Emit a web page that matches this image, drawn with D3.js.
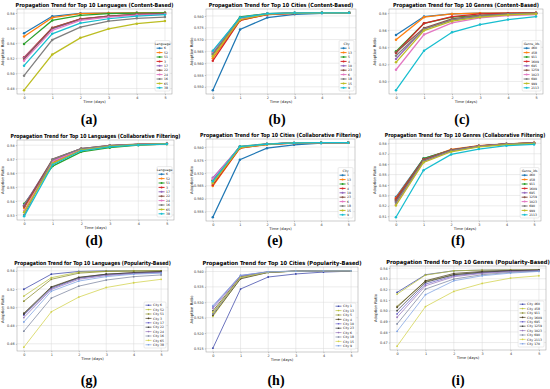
<!DOCTYPE html>
<html>
<head>
<meta charset="utf-8">
<script src="https://cdn.jsdelivr.net/npm/d3@7"></script>
<style>
  html, body { margin: 0; padding: 0; background: #fff; }
  svg { display: block; font-family: "DejaVu Sans", sans-serif; }
</style>
</head>
<body>
<div id="chart"></div>
<script>
// time steps shared by every panel
const timeSteps = [0, 1, 2, 3, 4, 5];

const languageIds = ["6", "52", "51", "3", "17", "22", "24", "16", "65", "38"];
const cityIds = ["1", "13", "5", "4", "10", "23", "6", "18", "15", "9"];
const genreIds = ["460", "458", "911", "1609", "695", "1259", "1023", "690", "999", "2113"];
const genrePopIds = ["460", "458", "911", "1609", "695", "1259", "1023", "690", "2113", "170"];

// (a) languages, content-based
const langContent = [
    [0.5533, 0.5756, 0.5796, 0.5800, 0.5802, 0.5802],
    [0.5489, 0.5738, 0.5791, 0.5799, 0.5802, 0.5802],
    [0.5391, 0.5702, 0.5769, 0.5791, 0.5800, 0.5802],
    [0.5213, 0.5604, 0.5724, 0.5760, 0.5782, 0.5791],
    [0.5204, 0.5591, 0.5716, 0.5756, 0.5778, 0.5787],
    [0.5191, 0.5600, 0.5720, 0.5760, 0.5782, 0.5791],
    [0.5169, 0.5569, 0.5702, 0.5747, 0.5773, 0.5782],
    [0.4969, 0.5444, 0.5613, 0.5693, 0.5729, 0.5747],
    [0.4778, 0.5249, 0.5471, 0.5591, 0.5658, 0.5693],
    [0.5102, 0.5524, 0.5667, 0.5724, 0.5760, 0.5778]
];
// (b) cities, content-based
const cityContent = [
    [0.5486, 0.5743, 0.5793, 0.5807, 0.5811, 0.5813],
    [0.5621, 0.5781, 0.5807, 0.5811, 0.5813, 0.5813],
    [0.5643, 0.5796, 0.5810, 0.5813, 0.5813, 0.5813],
    [0.5610, 0.5781, 0.5806, 0.5811, 0.5813, 0.5813],
    [0.5650, 0.5790, 0.5809, 0.5812, 0.5813, 0.5813],
    [0.5636, 0.5786, 0.5808, 0.5812, 0.5813, 0.5813],
    [0.5647, 0.5788, 0.5809, 0.5812, 0.5813, 0.5813],
    [0.5639, 0.5793, 0.5810, 0.5812, 0.5813, 0.5813],
    [0.5629, 0.5784, 0.5808, 0.5812, 0.5813, 0.5813],
    [0.5653, 0.5793, 0.5810, 0.5813, 0.5813, 0.5813]
];
// (c) genres, content-based
const genreContent = [
    [0.5545, 0.5761, 0.5792, 0.5800, 0.5800, 0.5804],
    [0.5490, 0.5753, 0.5792, 0.5800, 0.5800, 0.5804],
    [0.5353, 0.5682, 0.5753, 0.5776, 0.5792, 0.5800],
    [0.5333, 0.5682, 0.5761, 0.5792, 0.5800, 0.5804],
    [0.5263, 0.5616, 0.5722, 0.5761, 0.5784, 0.5792],
    [0.5341, 0.5627, 0.5733, 0.5776, 0.5792, 0.5800],
    [0.5137, 0.5549, 0.5686, 0.5745, 0.5773, 0.5784],
    [0.5302, 0.5612, 0.5722, 0.5769, 0.5792, 0.5800],
    [0.5224, 0.5596, 0.5706, 0.5753, 0.5780, 0.5792],
    [0.4898, 0.5361, 0.5576, 0.5667, 0.5725, 0.5761]
];
// (d) languages, collaborative filtering
const langCollab = [
    [0.5370, 0.5680, 0.5770, 0.5795, 0.5805, 0.5810],
    [0.5350, 0.5675, 0.5765, 0.5790, 0.5803, 0.5808],
    [0.5380, 0.5650, 0.5752, 0.5782, 0.5800, 0.5808],
    [0.5360, 0.5690, 0.5772, 0.5795, 0.5806, 0.5810],
    [0.5370, 0.5695, 0.5775, 0.5797, 0.5806, 0.5811],
    [0.5360, 0.5700, 0.5776, 0.5798, 0.5807, 0.5811],
    [0.5330, 0.5685, 0.5770, 0.5795, 0.5805, 0.5810],
    [0.5300, 0.5700, 0.5775, 0.5797, 0.5806, 0.5811],
    [0.5320, 0.5668, 0.5765, 0.5792, 0.5804, 0.5809],
    [0.5290, 0.5660, 0.5760, 0.5788, 0.5802, 0.5808]
];
// (e) cities, collaborative filtering
const cityCollab = [
    [0.5528, 0.5751, 0.5796, 0.5809, 0.5815, 0.5817],
    [0.5649, 0.5796, 0.5810, 0.5815, 0.5817, 0.5817],
    [0.5672, 0.5803, 0.5813, 0.5816, 0.5817, 0.5817],
    [0.5653, 0.5796, 0.5811, 0.5815, 0.5817, 0.5817],
    [0.5681, 0.5800, 0.5812, 0.5816, 0.5817, 0.5817],
    [0.5672, 0.5800, 0.5812, 0.5816, 0.5817, 0.5817],
    [0.5677, 0.5801, 0.5812, 0.5816, 0.5817, 0.5817],
    [0.5663, 0.5799, 0.5812, 0.5816, 0.5817, 0.5817],
    [0.5660, 0.5798, 0.5811, 0.5816, 0.5817, 0.5817],
    [0.5668, 0.5802, 0.5812, 0.5816, 0.5817, 0.5817]
];
// (f) genres, collaborative filtering
const genreCollab = [
    [0.5284, 0.5655, 0.5735, 0.5774, 0.5794, 0.5803],
    [0.5274, 0.5648, 0.5742, 0.5777, 0.5794, 0.5806],
    [0.5261, 0.5655, 0.5735, 0.5774, 0.5794, 0.5803],
    [0.5268, 0.5645, 0.5735, 0.5774, 0.5794, 0.5803],
    [0.5242, 0.5639, 0.5735, 0.5774, 0.5794, 0.5803],
    [0.5252, 0.5642, 0.5738, 0.5776, 0.5795, 0.5804],
    [0.5210, 0.5623, 0.5726, 0.5771, 0.5790, 0.5800],
    [0.5229, 0.5629, 0.5730, 0.5772, 0.5792, 0.5801],
    [0.5203, 0.5616, 0.5719, 0.5765, 0.5787, 0.5797],
    [0.5090, 0.5542, 0.5694, 0.5745, 0.5777, 0.5790]
];
// (g) languages, popularity-based
const langPop = [
    [0.5198, 0.5363, 0.5393, 0.5400, 0.5400, 0.5400],
    [0.5123, 0.5325, 0.5385, 0.5396, 0.5400, 0.5400],
    [0.5067, 0.5307, 0.5374, 0.5393, 0.5396, 0.5400],
    [0.4936, 0.5224, 0.5329, 0.5363, 0.5381, 0.5393],
    [0.4914, 0.5206, 0.5318, 0.5355, 0.5374, 0.5385],
    [0.4925, 0.5217, 0.5325, 0.5363, 0.5378, 0.5389],
    [0.4888, 0.5195, 0.5307, 0.5348, 0.5370, 0.5381],
    [0.4738, 0.5101, 0.5232, 0.5299, 0.5336, 0.5355],
    [0.4563, 0.4951, 0.5112, 0.5217, 0.5269, 0.5307],
    [0.4839, 0.5176, 0.5288, 0.5336, 0.5363, 0.5374]
];
// (h) cities, popularity-based
const cityPop = [
    [0.5151, 0.5343, 0.5382, 0.5392, 0.5398, 0.5401],
    [0.5254, 0.5378, 0.5397, 0.5401, 0.5402, 0.5402],
    [0.5265, 0.5382, 0.5398, 0.5401, 0.5402, 0.5402],
    [0.5258, 0.5376, 0.5397, 0.5401, 0.5402, 0.5402],
    [0.5285, 0.5387, 0.5399, 0.5401, 0.5402, 0.5402],
    [0.5272, 0.5383, 0.5398, 0.5401, 0.5402, 0.5402],
    [0.5280, 0.5385, 0.5399, 0.5401, 0.5402, 0.5402],
    [0.5262, 0.5380, 0.5398, 0.5401, 0.5402, 0.5402],
    [0.5268, 0.5381, 0.5398, 0.5401, 0.5402, 0.5402],
    [0.5289, 0.5387, 0.5399, 0.5401, 0.5402, 0.5402]
];
// (i) genres, popularity-based
const genrePop = [
    [0.5172, 0.5338, 0.5375, 0.5381, 0.5384, 0.5384],
    [0.5156, 0.5334, 0.5375, 0.5381, 0.5384, 0.5384],
    [0.5041, 0.5275, 0.5338, 0.5360, 0.5375, 0.5381],
    [0.5031, 0.5281, 0.5350, 0.5369, 0.5378, 0.5381],
    [0.4969, 0.5250, 0.5328, 0.5356, 0.5372, 0.5378],
    [0.5000, 0.5266, 0.5338, 0.5363, 0.5375, 0.5381],
    [0.4938, 0.5234, 0.5319, 0.5350, 0.5366, 0.5375],
    [0.4875, 0.5203, 0.5297, 0.5338, 0.5360, 0.5372],
    [0.4666, 0.5038, 0.5181, 0.5256, 0.5306, 0.5328],
    [0.4806, 0.5150, 0.5281, 0.5328, 0.5353, 0.5369]
];

const tab10 = ["#1f77b4", "#ff7f0e", "#2ca02c", "#d62728", "#9467bd", "#8c564b", "#e377c2", "#7f7f7f", "#bcbd22", "#17becf"];
const popColors = ["#3b45a8", "#b9c13c", "#8a8c2e", "#4e4122", "#6a62c8", "#3f3f3f", "#9a78bd", "#7c86a0", "#d2d24a", "#7ea2e2"];

const W = 550, H = 389;

// plot rectangles (x0, x1, y0, y1) and sub-label positions
const panels = [
    { tag: "(a)", title: "Propagation Trend for Top 10 Languages (Content-Based)", titleW: 158, values: langContent, ids: languageIds, prefix: "", legendTitle: "Language", colors: tab10, step: 0.02, fmt: ".2f", box: [17, 172, 9, 94], label: [89, 120] },
    { tag: "(b)", title: "Propagation Trend for Top 10 Cities (Content-Based)", titleW: 145, values: cityContent, ids: cityIds, prefix: "", legendTitle: "City", colors: tab10, step: 0.005, fmt: ".3f", box: [206, 356, 9, 94], label: [277, 120] },
    { tag: "(c)", title: "Propagation Trend for Top 10 Genres (Content-Based)", titleW: 146, values: genreContent, ids: genreIds, prefix: "", legendTitle: "Genre_ids", colors: tab10, step: 0.02, fmt: ".2f", box: [389, 543, 9, 94], label: [462, 120] },
    { tag: "(d)", title: "Propagation Trend for Top 10 Languages (Collaborative Filtering)", titleW: 170, values: langCollab, ids: languageIds, prefix: "", legendTitle: "Language", colors: tab10, step: 0.01, fmt: ".2f", box: [17, 174, 140, 220], label: [94, 241] },
    { tag: "(e)", title: "Propagation Trend for Top 10 Cities (Collaborative Filtering)", titleW: 161, values: cityCollab, ids: cityIds, prefix: "", legendTitle: "City", colors: tab10, step: 0.005, fmt: ".3f", box: [206, 355, 139, 221], label: [275, 241] },
    { tag: "(f)", title: "Propagation Trend for Top 10 Genres (Collaborative Filtering)", titleW: 161, values: genreCollab, ids: genreIds, prefix: "", legendTitle: "Genre_ids", colors: tab10, step: 0.01, fmt: ".2f", box: [389, 541, 139, 221], label: [458, 241] },
    { tag: "(g)", title: "Propagation Trend for Top 10 Languages (Popularity-Based)", titleW: 157, values: langPop, ids: languageIds, prefix: "City ", legendTitle: null, colors: popColors, step: 0.02, fmt: ".2f", box: [17, 168, 267, 351], label: [89, 381] },
    { tag: "(h)", title: "Propagation Trend for Top 10 Cities (Popularity-Based)", titleW: 159, values: cityPop, ids: cityIds, prefix: "City ", legendTitle: null, colors: popColors, step: 0.005, fmt: ".3f", box: [206, 358, 267, 352], label: [276, 381] },
    { tag: "(i)", title: "Propagation Trend for Top 10 Genres (Popularity-Based)", titleW: 164, values: genrePop, ids: genrePopIds, prefix: "City ", legendTitle: null, colors: popColors, step: 0.01, fmt: ".2f", box: [390, 546, 266, 350], label: [458, 381] }
];

const svg = d3.select("#chart").append("svg")
    .attr("width", W)
    .attr("height", H);

panels.forEach(drawPanel);

function drawPanel(p) {
    const [x0, x1, y0, y1] = p.box;
    const popular = p.legendTitle === null;
    const g = svg.append("g");

    const x = d3.scaleLinear().domain([-0.25, 5.25]).range([x0, x1]);
    const [lo, hi] = d3.extent(p.values.flat());
    const pad = (hi - lo) * 0.05;
    const y = d3.scaleLinear().domain([lo - pad, hi + pad]).range([y1, y0]);

    // tick values on multiples of the step
    const yTicks = d3.range(Math.ceil((lo - pad) / p.step - 1e-6), Math.floor((hi + pad) / p.step + 1e-6) + 1)
        .map(k => +(k * p.step).toFixed(4));

    g.append("rect")
        .attr("x", x0).attr("y", y0)
        .attr("width", x1 - x0).attr("height", y1 - y0)
        .attr("fill", "#fff");

    // grid
    g.append("g").selectAll("line.gy")
        .data(yTicks).enter().append("line")
        .attr("x1", x0).attr("x2", x1)
        .attr("y1", d => y(d)).attr("y2", d => y(d))
        .attr("stroke", "#d9d9d9").attr("stroke-width", 0.5);
    g.append("g").selectAll("line.gx")
        .data(timeSteps).enter().append("line")
        .attr("x1", d => x(d)).attr("x2", d => x(d))
        .attr("y1", y0).attr("y2", y1)
        .attr("stroke", "#d9d9d9").attr("stroke-width", 0.5);

    // axes (labels only, grid drawn above)
    const yAxis = g.append("g")
        .attr("transform", `translate(${x0},0)`)
        .call(d3.axisLeft(y).tickValues(yTicks).tickFormat(d3.format(p.fmt)).tickSize(1.2).tickPadding(1.2));
    const xAxis = g.append("g")
        .attr("transform", `translate(0,${y1})`)
        .call(d3.axisBottom(x).tickValues(timeSteps).tickFormat(d3.format("d")).tickSize(1.2).tickPadding(1));
    [yAxis, xAxis].forEach(a => {
        a.select(".domain").remove();
        a.selectAll(".tick line").attr("stroke", "#666").attr("stroke-width", 0.4);
        a.selectAll("text").attr("font-size", 3.4).attr("fill", "#333").attr("font-family", "DejaVu Sans");
    });

    g.append("rect")
        .attr("x", x0).attr("y", y0)
        .attr("width", x1 - x0).attr("height", y1 - y0)
        .attr("fill", "none").attr("stroke", "#9a9a9a").attr("stroke-width", 0.5);

    // lines
    const line = d3.line()
        .x((d, i) => x(timeSteps[i]))
        .y(d => y(d));
    const series = g.append("g").selectAll("g")
        .data(p.values).enter().append("g");
    series.append("path")
        .attr("d", d => line(d))
        .attr("fill", "none")
        .attr("stroke", (d, i) => p.colors[i])
        .attr("stroke-width", popular ? 0.75 : 1.25);
    series.selectAll("circle")
        .data(d => d).enter().append("circle")
        .attr("cx", (d, i) => x(timeSteps[i]))
        .attr("cy", d => y(d))
        .attr("r", popular ? 0.9 : 1.25)
        .attr("fill", function() { return d3.select(this.parentNode).select("path").attr("stroke"); });

    // title: squeezed horizontally to the reference width
    const cx = (x0 + x1) / 2;
    const title = g.append("text")
        .attr("x", 0).attr("y", 0)
        .attr("text-anchor", "middle")
        .attr("font-size", 5.6).attr("font-weight", "bold")
        .text(p.title);
    const natural = title.node().getComputedTextLength();
    const sx = Math.min(1, p.titleW / natural);
    title.attr("transform", `translate(${cx},${y0 - 2.2}) scale(${sx},1)`);

    g.append("text")
        .attr("x", cx).attr("y", y1 + 9)
        .attr("text-anchor", "middle")
        .attr("font-size", 3.8).attr("fill", "#222")
        .text("Time (days)");
    g.append("text")
        .attr("transform", `translate(${x0 - 13},${(y0 + y1) / 2}) rotate(-90)`)
        .attr("text-anchor", "middle")
        .attr("font-size", 3.8).attr("fill", "#222")
        .text("Adoption Ratio");

    // legend
    const rowH = 4.4;
    const rows = p.ids.length + (popular ? 0 : 1);
    const lg = g.append("g");
    const labels = lg.append("g");
    const texts = labels.selectAll("text")
        .data(p.ids).enter().append("text")
        .attr("font-size", 3.1).attr("fill", "#222")
        .text(d => p.prefix + d);
    let textW = 0;
    texts.each(function() { textW = Math.max(textW, this.getComputedTextLength()); });
    const lw = 9 + textW + 2;
    const lh = rows * rowH + 2;
    const lx = x1 - 2 - lw, ly = y1 - 3 - lh;
    lg.insert("rect", ":first-child")
        .attr("x", lx).attr("y", ly).attr("width", lw).attr("height", lh)
        .attr("rx", 1).attr("fill", "#fff").attr("fill-opacity", 0.85)
        .attr("stroke", "#ccc").attr("stroke-width", 0.4);
    if (!popular) {
        lg.append("text")
            .attr("x", lx + lw / 2).attr("y", ly + 1 + rowH * 0.8)
            .attr("text-anchor", "middle")
            .attr("font-size", 3.2).attr("fill", "#222")
            .text(p.legendTitle);
    }
    const first = ly + 1 + (popular ? 0 : rowH) + rowH / 2;
    texts.attr("x", lx + 9).attr("y", (d, i) => first + i * rowH + 1.1);
    p.ids.forEach((d, i) => {
        const cy = first + i * rowH;
        lg.append("line")
            .attr("x1", lx + 1.5).attr("x2", lx + 7.5)
            .attr("y1", cy).attr("y2", cy)
            .attr("stroke", p.colors[i]).attr("stroke-width", popular ? 0.7 : 1);
        lg.append("circle")
            .attr("cx", lx + 4.5).attr("cy", cy).attr("r", popular ? 0.8 : 1)
            .attr("fill", p.colors[i]);
    });

    // sub-figure tag
    svg.append("text")
        .attr("x", p.label[0]).attr("y", p.label[1] + 4)
        .attr("text-anchor", "middle")
        .attr("font-family", "Liberation Serif, DejaVu Serif, serif")
        .attr("font-weight", "bold")
        .attr("font-size", 14)
        .text(p.tag);
}
</script>
</body>
</html>
